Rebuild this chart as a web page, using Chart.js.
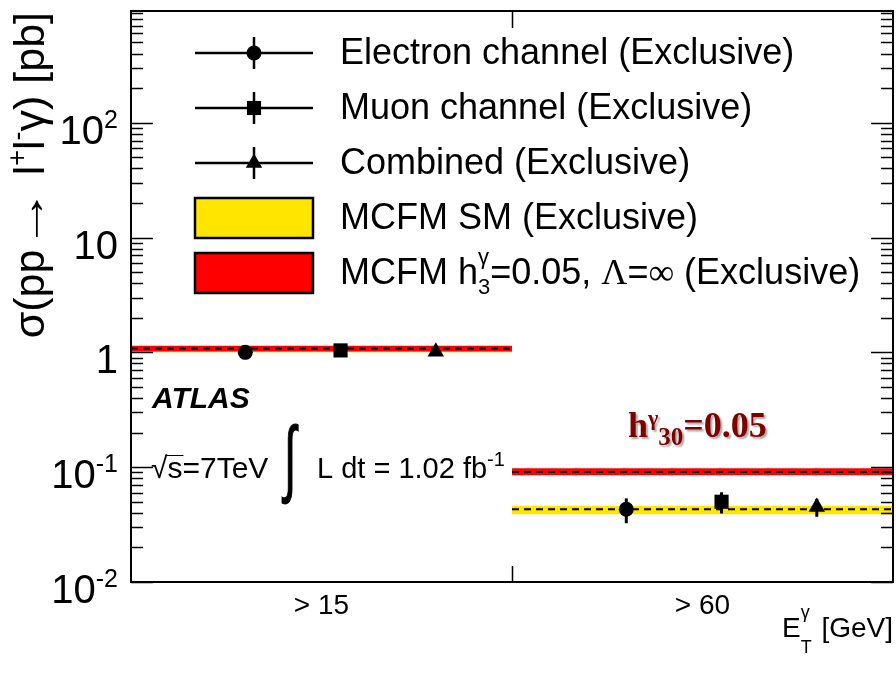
<!DOCTYPE html>
<html>
<head>
<meta charset="utf-8">
<script src="https://cdn.jsdelivr.net/npm/chart.js@4.4.0/dist/chart.umd.min.js"></script>
<style>
body { margin: 0; background: #fff; }
#wrap { width: 896px; height: 686px; position: relative; }
</style>
</head>
<body>
<div id="wrap"><canvas id="chart"></canvas></div>
<script>
// E_T^gamma bins
var categories = ['> 15', '> 60'];

// measured cross sections [pb] and errors
var electron = [1.00, 0.043];
var electronErr = [0.03, 0.0105];
var muon = [1.04, 0.050];
var muonErr = [0.03, 0.0105];
var combined = [1.01, 0.045];
var combinedErr = [0.02, 0.008];

// MCFM predictions
var smCentral = [1.07, 0.0431];
var smLow = [1.00, 0.0390];
var smHigh = [1.13, 0.0458];
var h3Central = [1.08, 0.091];
var h3Low = [1.02, 0.0852];
var h3High = [1.14, 0.098];

// y tick labels
var yTickValues = [0.01, 0.1, 1, 10, 100];
var yTickBases = ['10', '10', '1', '10', '10'];
var yTickExps = ['-2', '-1', '', '', '2'];

var SANS = '"Liberation Sans", Arial, sans-serif';
var SERIF = '"Liberation Serif", "Times New Roman", serif';
var YELLOW = '#ffe500';
var RED = '#ff0000';
var pointOffsets = [0.30, 0.55, 0.80];

var datasets = [];

function addBand(label, central, low, high, color, bandOrder, lineOrder) {
    for (var i = 0; i < categories.length; i++) {
        datasets.push({
            type: 'line', label: label,
            data: [{x: i, y: high[i]}, {x: i + 1, y: high[i]}],
            borderWidth: 0, borderColor: 'rgba(0,0,0,0)', pointRadius: 0,
            backgroundColor: color, fill: {value: low[i]}, order: bandOrder
        });
        datasets.push({
            type: 'line', label: label,
            data: [{x: i, y: central[i]}, {x: i + 1, y: central[i]}],
            borderWidth: 2, borderColor: '#000', borderDash: [7, 5],
            pointRadius: 0, fill: false, order: lineOrder
        });
    }
}
addBand('MCFM SM (Exclusive)', smCentral, smLow, smHigh, YELLOW, 6, 5);
addBand('MCFM h3', h3Central, h3Low, h3High, RED, 4, 3);

var markerSets = [
    {label: 'Electron channel (Exclusive)', values: electron, errs: electronErr, style: 'circle', radius: 7.5},
    {label: 'Muon channel (Exclusive)', values: muon, errs: muonErr, style: 'rect', radius: 10},
    {label: 'Combined (Exclusive)', values: combined, errs: combinedErr, style: 'triangle', radius: 9.5}
];
markerSets.forEach(function (m, k) {
    datasets.push({
        type: 'scatter', label: m.label,
        data: m.values.map(function (v, i) { return {x: i + pointOffsets[k], y: v, err: m.errs[i]}; }),
        pointStyle: m.style, pointRadius: m.radius, backgroundColor: '#000',
        borderColor: '#000', borderWidth: 0, errorBars: true, order: 0
    });
});

function partWidth(ctx, p) {
    if (p.stack) {
        var w = 0;
        p.stack.forEach(function (q) { ctx.font = q.font; w = Math.max(w, ctx.measureText(q.t).width); });
        return w;
    }
    ctx.font = p.font;
    return ctx.measureText(p.t).width * (p.sx || 1);
}
function drawRich(ctx, parts, x, y, align) {
    var total = 0;
    parts.forEach(function (p) { total += partWidth(ctx, p) + (p.gap || 0); });
    var cx = align === 'right' ? x - total : (align === 'center' ? x - total / 2 : x);
    ctx.textAlign = 'left';
    ctx.textBaseline = 'alphabetic';
    parts.forEach(function (p) {
        var w = partWidth(ctx, p);
        (p.stack || [p]).forEach(function (q) {
            ctx.font = q.font;
            ctx.save();
            ctx.translate(cx, y + (q.dy || 0));
            ctx.scale(q.sx || 1, 1);
            ctx.fillText(q.t, 0, 0);
            ctx.restore();
        });
        cx += w + (p.gap || 0);
    });
}

var atlasPlugin = {
    id: 'atlasPlot',
    afterDatasetsDraw: function (chart) {
        var ctx = chart.ctx, ys = chart.scales.y;
        ctx.save();
        ctx.strokeStyle = '#000';
        ctx.lineWidth = 3;
        chart.data.datasets.forEach(function (ds, di) {
            if (!ds.errorBars) return;
            var meta = chart.getDatasetMeta(di);
            meta.data.forEach(function (el, i) {
                var d = ds.data[i];
                ctx.beginPath();
                ctx.moveTo(el.x, ys.getPixelForValue(d.y + d.err));
                ctx.lineTo(el.x, ys.getPixelForValue(d.y - d.err));
                ctx.stroke();
            });
        });
        ctx.restore();
    },
    afterDraw: function (chart) {
        var ctx = chart.ctx, a = chart.chartArea, xs = chart.scales.x, ys = chart.scales.y;
        ctx.save();
        // frame
        ctx.strokeStyle = '#000';
        ctx.lineWidth = 2;
        ctx.strokeRect(a.left, a.top, a.right - a.left, a.bottom - a.top);
        // log ticks, left and right, pointing inwards
        ctx.lineWidth = 1.5;
        for (var e = -2; e <= 2; e++) {
            for (var m = 1; m <= 9; m++) {
                var v = m * Math.pow(10, e);
                if (v < ys.min || v > ys.max) continue;
                var py = Math.round(ys.getPixelForValue(v)) + 0.5;
                var len = m === 1 ? 22 : 12;
                ctx.beginPath();
                ctx.moveTo(a.left, py); ctx.lineTo(a.left + len, py);
                ctx.moveTo(a.right, py); ctx.lineTo(a.right - len, py);
                ctx.stroke();
            }
        }
        // bin boundary ticks
        for (var b = 1; b < categories.length; b++) {
            var px = Math.round(xs.getPixelForValue(b)) + 0.5;
            ctx.beginPath();
            ctx.moveTo(px, a.bottom); ctx.lineTo(px, a.bottom - 16);
            ctx.moveTo(px, a.top); ctx.lineTo(px, a.top + 17);
            ctx.stroke();
        }
        ctx.fillStyle = '#000';
        // y tick labels
        yTickValues.forEach(function (v, i) {
            var parts = [{t: yTickBases[i], font: '40px ' + SANS}];
            if (yTickExps[i]) parts.push({t: yTickExps[i], font: '25px ' + SANS, dy: -16});
            drawRich(ctx, parts, 118, ys.getPixelForValue(v) + 21, 'right');
        });
        // x tick labels
        ctx.font = '28px ' + SANS;
        ctx.textAlign = 'center';
        ctx.textBaseline = 'alphabetic';
        categories.forEach(function (c, i) {
            ctx.fillText(c, xs.getPixelForValue(i + 0.5), 614);
        });
        // x axis title
        drawRich(ctx, [
            {t: 'E', font: '28px ' + SANS},
            {stack: [{t: 'γ', font: '18px ' + SANS, dy: -19}, {t: 'T', font: '18px ' + SANS, dy: 16}], gap: 2},
            {t: ' [GeV]', font: '28px ' + SANS}
        ], 893, 637, 'right');
        // y axis title
        ctx.save();
        ctx.translate(44, 12);
        ctx.rotate(-Math.PI / 2);
        drawRich(ctx, [
            {t: 'σ(pp', font: '43px ' + SANS},
            {t: '→', font: '43px ' + SANS, sx: 1.45},
            {t: ' l', font: '43px ' + SANS},
            {t: '+', font: '27px ' + SANS, dy: -18},
            {t: 'l', font: '43px ' + SANS},
            {t: '-', font: '27px ' + SANS, dy: -18},
            {t: 'γ) [pb]', font: '43px ' + SANS}
        ], 0, 0, 'right');
        ctx.restore();

        // legend
        var rows = [53, 108, 163, 218, 273];
        var lx0 = 195, lx1 = 313, lxm = 254;
        markerSets.forEach(function (m, k) {
            var y = rows[k];
            ctx.strokeStyle = '#000';
            ctx.lineWidth = 2.5;
            ctx.beginPath();
            ctx.moveTo(lx0, y); ctx.lineTo(lx1, y);
            ctx.moveTo(lxm, y - 16); ctx.lineTo(lxm, y + 16);
            ctx.stroke();
            ctx.fillStyle = '#000';
            Chart.helpers.drawPoint(ctx, {pointStyle: m.style, radius: m.radius, rotation: 0, borderWidth: 0}, lxm, y);
            ctx.font = '36px ' + SANS;
            ctx.textAlign = 'left';
            ctx.fillText(m.label, 340, y + 11);
        });
        [[YELLOW, 3], [RED, 4]].forEach(function (bx) {
            var y = rows[bx[1]];
            ctx.fillStyle = bx[0];
            ctx.fillRect(lx0, y - 20, lx1 - lx0, 40);
            ctx.lineWidth = 2.5;
            ctx.strokeStyle = '#000';
            ctx.strokeRect(lx0, y - 20, lx1 - lx0, 40);
        });
        ctx.fillStyle = '#000';
        drawRich(ctx, [{t: 'MCFM SM (Exclusive)', font: '36px ' + SANS}], 340, rows[3] + 11, 'left');
        drawRich(ctx, [
            {t: 'MCFM h', font: '36px ' + SANS},
            {stack: [{t: 'γ', font: '22px ' + SANS, dy: -20}, {t: '3', font: '22px ' + SANS, dy: 10}]},
            {t: '=0.05, ', font: '36px ' + SANS},
            {t: 'Λ', font: '36px ' + SERIF},
            {t: '=', font: '36px ' + SANS},
            {t: '∞', font: '36px ' + SERIF},
            {t: ' (Exclusive)', font: '36px ' + SANS}
        ], 340, rows[4] + 11, 'left');

        // ATLAS label
        ctx.font = 'italic bold 30px ' + SANS;
        ctx.textAlign = 'left';
        ctx.fillText('ATLAS', 152, 408);
        // sqrt(s)
        ctx.font = '30px ' + SANS;
        ctx.fillText('√s=7TeV', 151, 478);
        var wr = ctx.measureText('√').width, ws = ctx.measureText('s').width;
        ctx.lineWidth = 1;
        ctx.beginPath();
        ctx.moveTo(151 + wr - 2, 455.5); ctx.lineTo(151 + wr + ws + 1, 455.5);
        ctx.stroke();
        // integral sign
        ctx.save();
        ctx.translate(284, 486);
        ctx.scale(1.1, 2.1);
        ctx.font = '40px ' + SANS;
        ctx.lineWidth = 0.6;
        ctx.strokeStyle = '#000';
        ctx.fillText('∫', 0, 0);
        ctx.strokeText('∫', 0, 0);
        ctx.restore();
        drawRich(ctx, [
            {t: 'L dt = 1.02 fb', font: '29px ' + SANS},
            {t: '-1', font: '20px ' + SANS, dy: -12}
        ], 317, 478, 'left');

        // h3 annotation
        ctx.save();
        ctx.shadowColor = 'rgba(0,0,0,0.35)';
        ctx.shadowOffsetX = 2;
        ctx.shadowOffsetY = 2;
        ctx.shadowBlur = 2;
        ctx.fillStyle = '#800000';
        drawRich(ctx, [
            {t: 'h', font: 'bold 36px ' + SERIF},
            {t: 'γ', font: 'bold 22px ' + SERIF, dy: -12},
            {t: '30', font: 'bold 25px ' + SERIF, dy: 8},
            {t: '=0.05', font: 'bold 36px ' + SERIF}
        ], 628, 437, 'left');
        ctx.restore();
        ctx.restore();
    }
};

new Chart(document.getElementById('chart'), {
    type: 'scatter',
    data: {datasets: datasets},
    options: {
        responsive: true,
        maintainAspectRatio: false,
        animation: false,
        layout: {autoPadding: false, padding: {left: 131, right: 3, top: 11, bottom: 104}},
        scales: {
            x: {type: 'linear', min: 0, max: 2, display: false},
            y: {type: 'logarithmic', min: 0.01, max: 940, display: false, bounds: 'data'}
        },
        plugins: {legend: {display: false}, tooltip: {enabled: false}}
    },
    plugins: [atlasPlugin]
});
</script>
</body>
</html>
